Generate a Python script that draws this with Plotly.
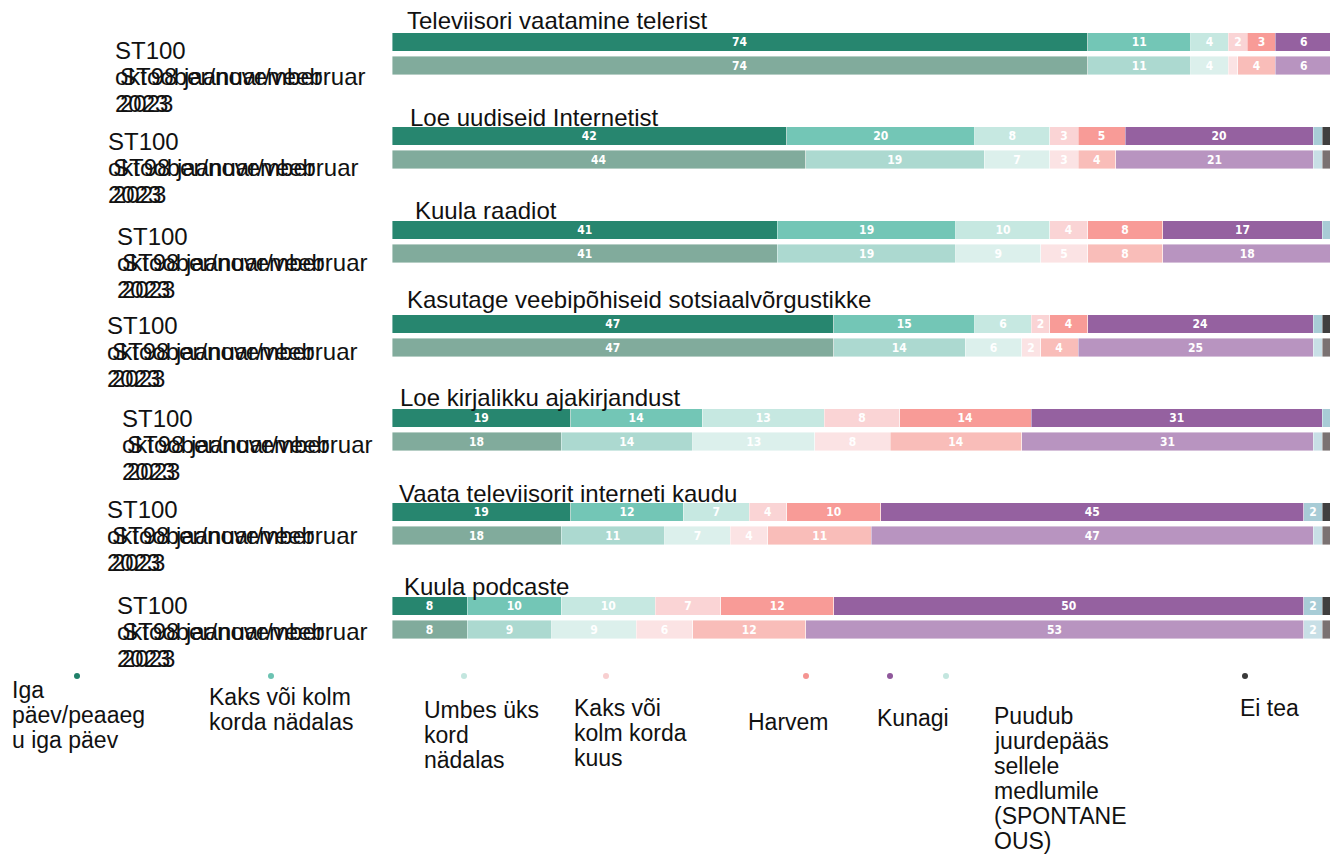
import plotly.graph_objects as go

# ---------------- data ----------------
groups = ["Televiisori vaatamine telerist", "Loe uudiseid Internetist", "Kuula raadiot",
          "Kasutage veebipõhiseid sotsiaalvõrgustikke", "Loe kirjalikku ajakirjandust",
          "Vaata televiisorit interneti kaudu", "Kuula podcaste"]
survey_labels = [["ST100", "oktoober/november", "2023"], ["ST98 jaanuar/veebruar", "2023"]]

categories = ["Iga päev/peaaegu iga päev", "Kaks või kolm korda nädalas", "Umbes üks kord nädalas",
              "Kaks või kolm korda kuus", "Harvem", "Kunagi",
              "Puudub juurdepääs sellele medlumile (SPONTANEOUS)", "Ei tea"]
legend_lines = [["Iga", "päev/peaaeg", "u iga päev"],
                ["Kaks või kolm", "korda nädalas"],
                ["Umbes üks", "kord", "nädalas"],
                ["Kaks või", "kolm korda", "kuus"],
                ["Harvem"],
                ["Kunagi"],
                ["Puudub", "juurdepääs", "sellele", "medlumile", "(SPONTANE", "OUS)"],
                ["Ei tea"]]

iga_st100 = [74, 42, 41, 47, 19, 19, 8]
iga_st98 = [74, 44, 41, 47, 18, 18, 8]
kaks_nad_st100 = [11, 20, 19, 15, 14, 12, 10]
kaks_nad_st98 = [11, 19, 19, 14, 14, 11, 9]
umbes_st100 = [4, 8, 10, 6, 13, 7, 10]
umbes_st98 = [4, 7, 9, 6, 13, 7, 9]
kuus_st100 = [2, 3, 4, 2, 8, 4, 7]
kuus_st98 = [1, 3, 5, 2, 8, 4, 6]
harvem_st100 = [3, 5, 8, 4, 14, 10, 12]
harvem_st98 = [4, 4, 8, 4, 14, 11, 12]
kunagi_st100 = [6, 20, 17, 24, 31, 45, 50]
kunagi_st98 = [6, 21, 18, 25, 31, 47, 53]
puudub_st100 = [0, 1, 1, 1, 1, 2, 2]
puudub_st98 = [0, 1, 0, 1, 1, 1, 2]
eitea_st100 = [0, 1, 0, 1, 0, 1, 1]
eitea_st98 = [0, 1, 0, 1, 1, 1, 1]

series_st100 = [iga_st100, kaks_nad_st100, umbes_st100, kuus_st100, harvem_st100, kunagi_st100, puudub_st100, eitea_st100]
series_st98 = [iga_st98, kaks_nad_st98, umbes_st98, kuus_st98, harvem_st98, kunagi_st98, puudub_st98, eitea_st98]

# ---------------- styles ----------------
colors_st100 = ["#27866f", "#73c6b6", "#c6e8e1", "#fad4d5", "#f89b97", "#9561a0", "#a8ccd6", "#3f3f3f"]
colors_st98 = ["#81ab9c", "#acd9d0", "#dcf0ec", "#fbe3e4", "#f9bdb9", "#b894c0", "#c8dfe6", "#7a7272"]
legend_dot_colors = ["#1f8069", "#6cc3b2", "#c3e6df", "#f8cfd0", "#f59491", "#8f589b", "#c3e6df", "#3a3a3a"]

W, H = 1330, 859
L = 392
SLOT = 23.5              # px per y unit
TOP0 = 18.5              # figure pixel of y = 0
FONT = "Liberation Sans, Arial, sans-serif"
FS = 24

def sx(px):  # pixel x -> paper
    return (px - L) / (W - L)

def sy(py):  # pixel y -> paper
    return 1 - py / H

fig = go.Figure()

y_positions = []
for g in range(len(groups)):
    y_positions += [g * 4 + 1, g * 4 + 2]

for ci, cat in enumerate(categories):
    vals, cols, texts = [], [], []
    for g in range(len(groups)):
        for ser, colset in [(series_st100, colors_st100), (series_st98, colors_st98)]:
            v = ser[ci][g]
            vals.append(v)
            cols.append(colset[ci])
            texts.append(str(v) if v >= 2 else "")
    fig.add_trace(go.Bar(
        x=vals, y=y_positions, orientation="h", name=cat,
        marker=dict(color=cols, line=dict(color="rgba(255,255,255,0.7)", width=0.6)),
        width=0.8, text=texts, textposition="inside", insidetextanchor="middle",
        textangle=0, constraintext="none",
        textfont=dict(color="white", size=12, weight="bold",
                      family="Liberation Sans Narrow, Arial Narrow, DejaVu Sans Condensed, Liberation Sans"),
        hoverinfo="skip", showlegend=False,
    ))

annotations = []
# group titles
title_x_px = [405, 408, 413, 405, 398, 397, 402]
title_shift = [22, 19, 20, 25, 21, 19, 20]
for g, name in enumerate(groups):
    annotations.append(dict(text=name, x=sx(title_x_px[g]), xref="paper",
                            y=g * 4 + 1, yref="y", yshift=title_shift[g],
                            xanchor="left", yanchor="middle", showarrow=False,
                            font=dict(size=FS, family=FONT, color="#111")))

# overlapping survey labels
label_x_px = [113, 106, 115, 105, 120, 105, 115]
label_shift = [-8, -5, -6, -1, 0, 3, 1]
LINE = 26.5
for g in range(len(groups)):
    for li, line in enumerate(survey_labels[0]):
        annotations.append(dict(text=line, x=sx(label_x_px[g]), xref="paper",
                                y=g * 4 + 1, yref="y", yshift=label_shift[g] - li * LINE,
                                xanchor="left", yanchor="middle", showarrow=False,
                                font=dict(size=FS, family=FONT, color="#111")))
    for li, line in enumerate(survey_labels[1]):
        annotations.append(dict(text=line, x=sx(label_x_px[g] + 5), xref="paper",
                                y=g * 4 + 1, yref="y", yshift=label_shift[g] - (li + 1) * LINE,
                                xanchor="left", yanchor="middle", showarrow=False,
                                font=dict(size=FS, family=FONT, color="#111")))

# cut-off title at the very top
annotations.append(dict(text="(%)", x=sx(56), xref="paper", y=1, yref="paper",
                        yshift=-1, xanchor="left", yanchor="bottom", showarrow=False,
                        font=dict(size=FS, family=FONT, color="#111")))

# legend
dot_x_px = [77, 271, 464, 606, 806, 890, 946, 1245]
dot_y_px = 676
text_x_px = [10, 207, 422, 572, 746, 875, 992, 1238]
text_y_px = [690, 697, 710, 708, 722, 718, 716, 708]
LLINE = 25
shapes = []
for i in range(len(categories)):
    cx, cy = sx(dot_x_px[i]), sy(dot_y_px)
    shapes.append(dict(type="circle", xref="paper", yref="paper", xsizemode="pixel", ysizemode="pixel",
                       xanchor=cx, yanchor=cy, x0=-3, x1=3, y0=-3, y1=3,
                       fillcolor=legend_dot_colors[i], line=dict(width=0)))
    for li, line in enumerate(legend_lines[i]):
        annotations.append(dict(text=line, x=sx(text_x_px[i]), xref="paper",
                                y=sy(text_y_px[i] + li * LLINE), yref="paper",
                                xanchor="left", yanchor="middle", showarrow=False,
                                font=dict(size=FS - 1, family=FONT, color="#111")))

fig.update_layout(
    width=W, height=H, barmode="stack",
    margin=dict(l=L, r=0, t=0, b=0),
    paper_bgcolor="white", plot_bgcolor="white",
    xaxis=dict(range=[0, 99.8], visible=False, fixedrange=True),
    yaxis=dict(range=[(H - TOP0) / SLOT, -TOP0 / SLOT], visible=False, fixedrange=True),
    annotations=annotations, shapes=shapes,
    bargap=0, showlegend=False,
)

fig.write_html(
    "out.html",
    config={"displayModeBar": False, "staticPlot": True},
    post_script="document.body.style.margin='0';"
                "document.documentElement.style.overflow='hidden';"
                "document.body.style.overflow='hidden';",
)
